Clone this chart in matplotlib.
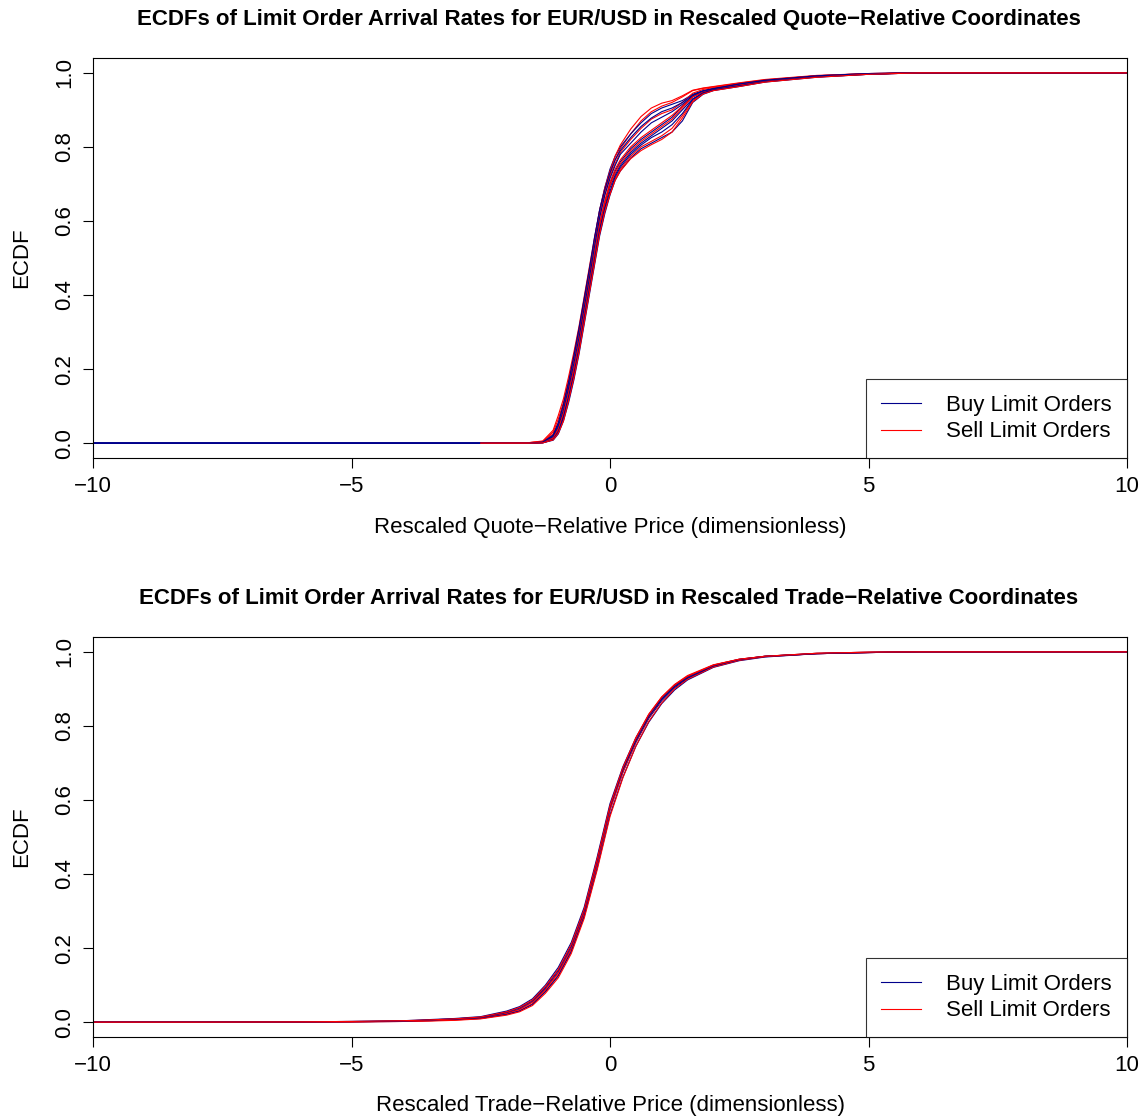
import matplotlib

matplotlib.use("Agg")
import matplotlib.pyplot as plt
from matplotlib.lines import Line2D

plt.rcParams["font.family"] = ["Liberation Sans", "DejaVu Sans"]

BUY_COLOR = "#00008B"
SELL_COLOR = "#FF0000"

# ---- top panel: quote-relative coordinates ----
QUOTE_X = [-10, -2.5, -1.6, -1.3, -1.1, -1.0, -0.9, -0.8, -0.7, -0.6, -0.5,
           -0.4, -0.3, -0.2, -0.1, 0.0, 0.1, 0.2, 0.4, 0.6, 0.8, 1.0, 1.2,
           1.4, 1.6, 1.8, 2.0, 2.5, 3.0, 4.0, 5.0, 6.0, 10]

QUOTE_BUY = [
    [0, 0, 0, 0.002, 0.015, 0.04, 0.08, 0.14, 0.20, 0.27, 0.35, 0.43, 0.51, 0.59, 0.65, 0.70,
     0.735, 0.76, 0.795, 0.82, 0.84, 0.86, 0.88, 0.91, 0.935, 0.948, 0.955, 0.968, 0.978, 0.99,
     0.997, 1.0, 1.0],
    [0, 0, 0, 0.003, 0.02, 0.05, 0.10, 0.16, 0.23, 0.30, 0.38, 0.46, 0.55, 0.63, 0.69, 0.74,
     0.775, 0.80, 0.835, 0.865, 0.89, 0.905, 0.915, 0.925, 0.942, 0.952, 0.958, 0.970, 0.98,
     0.992, 0.998, 1.0, 1.0],
    [0, 0, 0, 0.001, 0.008, 0.025, 0.06, 0.11, 0.17, 0.24, 0.32, 0.40, 0.48, 0.56, 0.62, 0.67,
     0.71, 0.735, 0.77, 0.795, 0.81, 0.825, 0.84, 0.87, 0.92, 0.942, 0.952, 0.963, 0.975, 0.988,
     0.996, 1.0, 1.0],
    [0, 0, 0, 0.002, 0.012, 0.035, 0.075, 0.13, 0.19, 0.26, 0.34, 0.42, 0.50, 0.58, 0.64, 0.69,
     0.725, 0.75, 0.785, 0.81, 0.83, 0.85, 0.87, 0.90, 0.93, 0.945, 0.953, 0.966, 0.977, 0.99,
     0.997, 1.0, 1.0],
    [0, 0, 0, 0.002, 0.018, 0.045, 0.09, 0.15, 0.215, 0.285, 0.365, 0.445, 0.53, 0.61, 0.67,
     0.715, 0.75, 0.78, 0.81, 0.84, 0.865, 0.88, 0.895, 0.915, 0.938, 0.95, 0.957, 0.969, 0.979,
     0.991, 0.997, 1.0, 1.0],
    [0, 0, 0, 0.001, 0.01, 0.03, 0.07, 0.125, 0.185, 0.255, 0.335, 0.415, 0.495, 0.575, 0.635,
     0.68, 0.72, 0.745, 0.78, 0.805, 0.825, 0.84, 0.86, 0.89, 0.928, 0.946, 0.954, 0.965, 0.976,
     0.989, 0.996, 1.0, 1.0],
    [0, 0, 0, 0.003, 0.022, 0.055, 0.105, 0.165, 0.235, 0.31, 0.39, 0.47, 0.555, 0.63, 0.685,
     0.73, 0.765, 0.79, 0.825, 0.855, 0.878, 0.895, 0.905, 0.92, 0.94, 0.951, 0.957, 0.97, 0.98,
     0.992, 0.998, 1.0, 1.0],
]

QUOTE_SELL = [
    [0, 0, 0.001, 0.005, 0.03, 0.065, 0.11, 0.17, 0.235, 0.305, 0.385, 0.465, 0.545, 0.62, 0.68,
     0.725, 0.765, 0.795, 0.835, 0.87, 0.895, 0.91, 0.92, 0.935, 0.952, 0.958, 0.962, 0.972,
     0.981, 0.992, 0.998, 1.0, 1.0],
    [0, 0, 0, 0.002, 0.015, 0.04, 0.085, 0.145, 0.205, 0.275, 0.355, 0.435, 0.515, 0.595, 0.655,
     0.705, 0.74, 0.765, 0.80, 0.825, 0.845, 0.865, 0.885, 0.91, 0.937, 0.949, 0.956, 0.968,
     0.978, 0.99, 0.997, 1.0, 1.0],
    [0, 0, 0, 0.001, 0.01, 0.03, 0.065, 0.12, 0.18, 0.25, 0.33, 0.41, 0.49, 0.57, 0.63, 0.675,
     0.715, 0.74, 0.775, 0.80, 0.815, 0.83, 0.85, 0.885, 0.925, 0.944, 0.953, 0.964, 0.976,
     0.989, 0.996, 1.0, 1.0],
    [0, 0, 0.001, 0.004, 0.025, 0.055, 0.10, 0.16, 0.225, 0.295, 0.375, 0.455, 0.535, 0.61, 0.67,
     0.72, 0.755, 0.785, 0.82, 0.85, 0.875, 0.89, 0.90, 0.92, 0.945, 0.955, 0.96, 0.97, 0.98,
     0.991, 0.997, 1.0, 1.0],
    [0, 0, 0, 0.002, 0.013, 0.038, 0.08, 0.135, 0.195, 0.265, 0.345, 0.425, 0.505, 0.585, 0.645,
     0.695, 0.73, 0.755, 0.79, 0.815, 0.835, 0.855, 0.875, 0.905, 0.935, 0.948, 0.955, 0.967,
     0.977, 0.99, 0.997, 1.0, 1.0],
    [0, 0, 0.001, 0.006, 0.035, 0.075, 0.12, 0.18, 0.245, 0.315, 0.395, 0.475, 0.555, 0.63, 0.69,
     0.735, 0.775, 0.805, 0.848, 0.882, 0.905, 0.918, 0.925, 0.938, 0.953, 0.959, 0.963, 0.973,
     0.982, 0.993, 0.998, 1.0, 1.0],
    [0, 0, 0, 0.001, 0.009, 0.027, 0.06, 0.115, 0.175, 0.245, 0.325, 0.405, 0.485, 0.565, 0.625,
     0.672, 0.71, 0.735, 0.768, 0.79, 0.806, 0.82, 0.84, 0.878, 0.922, 0.943, 0.952, 0.963,
     0.975, 0.988, 0.996, 1.0, 1.0],
]

# ---- bottom panel: trade-relative coordinates ----
TRADE_X = [-10, -8, -6, -5, -4, -3.5, -3, -2.5, -2, -1.75, -1.5, -1.25, -1.0, -0.75, -0.5,
           -0.25, 0, 0.25, 0.5, 0.75, 1.0, 1.25, 1.5, 2.0, 2.5, 3.0, 4.0, 5.0, 6.0, 10]

TRADE_BUY = [
    [0, 0, 0.0005, 0.001, 0.003, 0.005, 0.008, 0.012, 0.025, 0.035, 0.055, 0.09, 0.135, 0.2,
     0.295, 0.43, 0.575, 0.675, 0.755, 0.82, 0.868, 0.903, 0.928, 0.961, 0.978, 0.987, 0.995,
     0.998, 1.0, 1.0],
    [0, 0, 0.001, 0.002, 0.004, 0.007, 0.01, 0.015, 0.03, 0.042, 0.063, 0.1, 0.148, 0.215,
     0.31, 0.445, 0.59, 0.69, 0.768, 0.83, 0.876, 0.91, 0.933, 0.964, 0.98, 0.988, 0.996,
     0.999, 1.0, 1.0],
    [0, 0, 0.0005, 0.001, 0.002, 0.004, 0.007, 0.01, 0.021, 0.03, 0.048, 0.082, 0.125, 0.19,
     0.285, 0.415, 0.56, 0.662, 0.745, 0.81, 0.86, 0.897, 0.924, 0.958, 0.976, 0.986, 0.995,
     0.998, 1.0, 1.0],
    [0, 0, 0.001, 0.002, 0.003, 0.006, 0.009, 0.013, 0.027, 0.038, 0.058, 0.094, 0.14, 0.206,
     0.302, 0.437, 0.582, 0.682, 0.76, 0.825, 0.872, 0.906, 0.93, 0.962, 0.979, 0.988, 0.995,
     0.998, 1.0, 1.0],
]

TRADE_SELL = [
    [0, 0, 0.0005, 0.001, 0.002, 0.004, 0.006, 0.01, 0.022, 0.031, 0.05, 0.084, 0.128, 0.193,
     0.29, 0.425, 0.572, 0.675, 0.757, 0.823, 0.872, 0.907, 0.932, 0.963, 0.979, 0.988, 0.995,
     0.998, 1.0, 1.0],
    [0, 0, 0.0005, 0.001, 0.003, 0.005, 0.008, 0.011, 0.024, 0.034, 0.054, 0.088, 0.133, 0.198,
     0.293, 0.43, 0.58, 0.683, 0.765, 0.83, 0.878, 0.912, 0.936, 0.965, 0.98, 0.988, 0.996,
     0.999, 1.0, 1.0],
    [0, 0, 0.0005, 0.001, 0.002, 0.003, 0.005, 0.009, 0.019, 0.028, 0.045, 0.078, 0.12, 0.185,
     0.28, 0.41, 0.555, 0.66, 0.745, 0.812, 0.862, 0.9, 0.926, 0.959, 0.977, 0.987, 0.995,
     0.998, 1.0, 1.0],
    [0, 0, 0.001, 0.002, 0.004, 0.006, 0.009, 0.014, 0.028, 0.04, 0.06, 0.097, 0.143, 0.21,
     0.305, 0.44, 0.585, 0.688, 0.768, 0.832, 0.878, 0.911, 0.934, 0.964, 0.98, 0.988, 0.996,
     0.999, 1.0, 1.0],
]

X_TICKS = [-10, -5, 0, 5, 10]
Y_TICKS = [0.0, 0.2, 0.4, 0.6, 0.8, 1.0]
FS = 16

W, H = 1144, 1118
fig = plt.figure(figsize=(W / 100, H / 100), dpi=100)


def px_axes(left, top, right, bottom):
    return fig.add_axes([left / W, 1 - bottom / H, (right - left) / W, (bottom - top) / H])


def draw_panel(ax, xs, buy, sell, sell_start):
    for b, s in zip(buy, sell):
        ax.plot(xs, b, color=BUY_COLOR, lw=0.8)
        ax.plot(xs[sell_start:], s[sell_start:], color=SELL_COLOR, lw=0.8)
    ax.set_xlim(-10, 10)
    ax.set_ylim(-0.04, 1.04)
    ax.set_xticks(X_TICKS)
    ax.set_xticklabels([f"{t}".replace("-", "\u2212") for t in X_TICKS])
    ax.set_yticks(Y_TICKS)
    ax.set_yticklabels([f"{t:.1f}" for t in Y_TICKS], rotation=90, va="center")
    ax.tick_params(direction="out", length=7, width=0.8, labelsize=FS, pad=6)
    for sp in ax.spines.values():
        sp.set_linewidth(0.8)
    handles = [Line2D([], [], color=BUY_COLOR, lw=0.8), Line2D([], [], color=SELL_COLOR, lw=0.8)]
    leg = ax.legend(handles, ["Buy Limit Orders", "Sell Limit Orders"], loc="lower right",
                    fontsize=FS, frameon=True, fancybox=False, borderaxespad=0,
                    handlelength=1.8, handletextpad=1.1, borderpad=0.7, labelspacing=0.25)
    leg.get_frame().set_edgecolor("black")
    leg.get_frame().set_linewidth(0.8)


ax1 = px_axes(93, 58, 1127, 458)
draw_panel(ax1, QUOTE_X, QUOTE_BUY, QUOTE_SELL, 1)
ax1.set_ylabel("ECDF", fontsize=FS, labelpad=16)
ax1.set_xlabel("Rescaled Quote\u2212Relative Price (dimensionless)", fontsize=FS, labelpad=14)
fig.text(609 / W, 1 - 20 / H,
         "ECDFs of Limit Order Arrival Rates for EUR/USD in Rescaled Quote\u2212Relative Coordinates",
         ha="center", va="center", fontsize=FS, fontweight="bold")

ax2 = px_axes(93, 637, 1127, 1037)
draw_panel(ax2, TRADE_X, TRADE_BUY, TRADE_SELL, 0)
ax2.set_ylabel("ECDF", fontsize=FS, labelpad=16)
ax2.set_xlabel("Rescaled Trade\u2212Relative Price (dimensionless)", fontsize=FS, labelpad=14)
fig.text(609 / W, 1 - 598 / H,
         "ECDFs of Limit Order Arrival Rates for EUR/USD in Rescaled Trade\u2212Relative Coordinates",
         ha="center", va="center", fontsize=FS, fontweight="bold")

fig.savefig("out.png", dpi=100)
